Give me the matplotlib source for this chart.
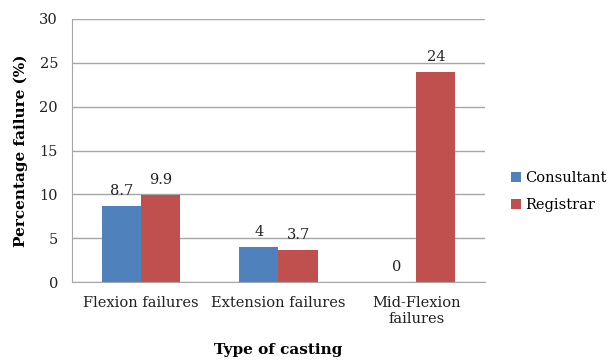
import numpy as np
import matplotlib
matplotlib.use("Agg")
import matplotlib.pyplot as plt

# Data
categories = ["Flexion failures", "Extension failures", "Mid-Flexion\nfailures"]
consultant = [8.7, 4, 0]
registrar = [9.9, 3.7, 24]
series_names = ["Consultant", "Registrar"]

plt.rcParams['font.family'] = ['DejaVu Serif']

fig = plt.figure(figsize=(6.14, 3.61), dpi=100)
ax = fig.add_axes([72/614, 1 - 282/361, (485-72)/614, (282-19)/361])

x = np.arange(len(categories))
w = 0.285
b1 = ax.bar(x - w/2, consultant, w, color="#4F81BD", label=series_names[0])
b2 = ax.bar(x + w/2, registrar, w, color="#C0504D", label=series_names[1])

for bars, vals in [(b1, consultant), (b2, registrar)]:
    for r, v in zip(bars, vals):
        ax.text(r.get_x() + r.get_width()/2, v + 0.9, f"{v:g}",
                ha="center", va="bottom", fontsize=10.5, color="#222222")

ax.set_xlim(-0.5, 2.5)
ax.set_ylim(0, 30)
ax.set_yticks(range(0, 31, 5))
ax.set_xticks(x)
ax.set_xticklabels(categories, fontsize=10.5)
ax.tick_params(axis="both", length=0, labelsize=10.5, colors="#222222")
ax.tick_params(axis="y", pad=10)
ax.tick_params(axis="x", pad=10)
ax.yaxis.grid(True, color="#A6A6A6", linewidth=1)
ax.set_axisbelow(True)
for s in ["top", "right"]:
    ax.spines[s].set_visible(False)
for s in ["left", "bottom"]:
    ax.spines[s].set_color("#A6A6A6")

ax.set_ylabel("Percentage failure (%)", fontsize=11, fontweight="bold", labelpad=8)
fig.text(278/614, 1 - 350/361, "Type of casting", fontsize=11, fontweight="bold",
         ha="center", va="center")

fig.legend(loc="upper left", bbox_to_anchor=(505/614, 1 - 165/361), frameon=False,
           fontsize=10.5, handlelength=0.7, handleheight=0.7, handletextpad=0.3,
           labelspacing=0.9, borderaxespad=0)

fig.savefig("out.png", dpi=100)
